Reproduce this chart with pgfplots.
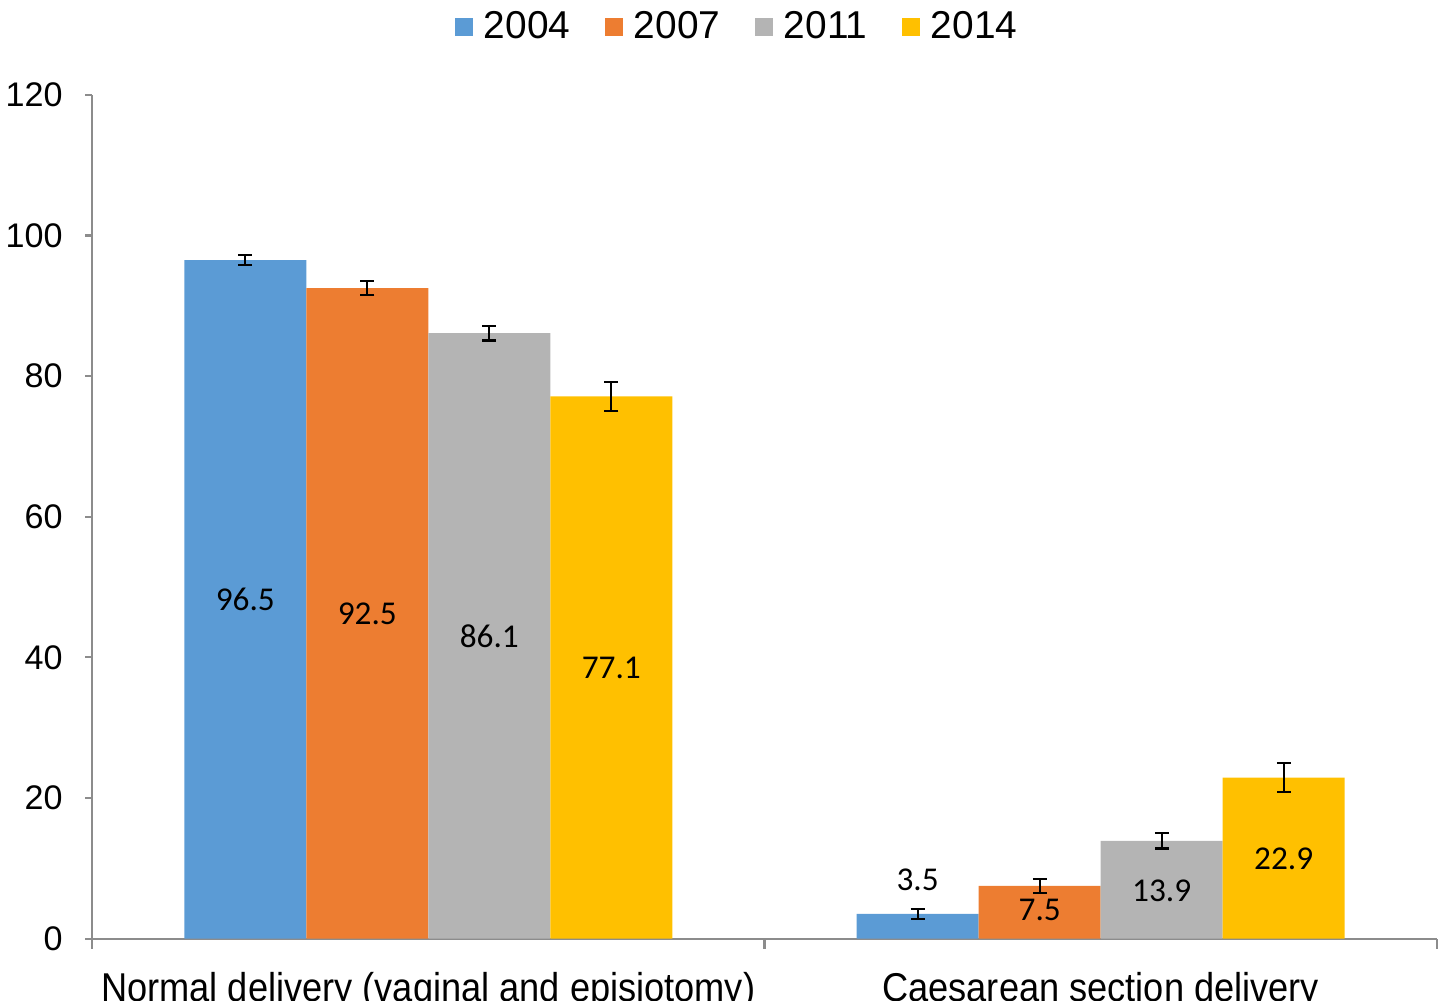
\documentclass[border=0pt]{standalone}
\usepackage{pgfplots}
\pgfplotsset{compat=1.18}
\usepackage{fontspec}
\setmainfont{Liberation Sans}
\newfontfamily\calibri{Carlito}
\newfontfamily\xlabfont[FakeStretch=0.9]{Liberation Sans}
\definecolor{c1}{HTML}{5B9BD5}
\definecolor{c2}{HTML}{ED7D31}
\definecolor{c3}{HTML}{B4B4B4}
\definecolor{c4}{HTML}{FFC000}
\definecolor{axisgray}{HTML}{8C8C8C}
\begin{document}
\begin{tikzpicture}
\begin{axis}[
  scale only axis, width=484.7pt, height=304.1pt,
  ybar, bar width=0.1815, bar shift=0pt,
  xmin=-0.5, xmax=1.5, ymin=0, ymax=120,
  clip=false,
  axis x line*=bottom, axis y line*=left,
  axis line style={draw=axisgray, line width=0.75pt},
  xtick={0,1},
  xticklabels={Normal delivery (vaginal and episiotomy), Caesarean section delivery},
  minor xtick={-0.5,0.5,1.5},
  tick align=outside,
  major x tick style={draw=none},
  minor x tick style={draw=axisgray, line width=0.75pt},
  minor tick length=3.6pt,
  major tick length=2.5pt,
  ytick={0,20,...,120},
  y tick style={draw=axisgray, line width=0.75pt},
  /pgf/number format/assume math mode=true,
  yticklabel style={font=\fontsize{12.3}{14}\selectfont, anchor=east, xshift=-4.6pt},
  xticklabel style={font=\xlabfont\fontsize{14.5}{16}\selectfont, anchor=base, yshift=-20pt},
  legend columns=4,
  legend style={draw=none, at={(0.481,1.08)}, anchor=center,
    font=\fontsize{14}{16}\selectfont,
    /tikz/every odd column/.append style={column sep=2pt},
    /tikz/every even column/.append style={column sep=10.5pt}},
  legend image code/.code={\fill[#1] (0pt,-3.2pt) rectangle (6.4pt,3.2pt);},
  error bars/y dir=both, error bars/y explicit,
  error bars/error bar style={draw=black, line width=0.8pt},
  error bars/error mark options={draw=black, rotate=90, mark size=2.5pt, line width=0.8pt},
]
\addplot[fill=c1, draw=none] table[x=x, y=y, y error=e]{
x y e
-0.2722 96.5 0.7
0.7278 3.5 0.7
};
\addlegendentry{2004}
\addplot[fill=c2, draw=none] table[x=x, y=y, y error=e]{
x y e
-0.0907 92.5 1.0
0.9093 7.5 1.0
};
\addlegendentry{2007}
\addplot[fill=c3, draw=none] table[x=x, y=y, y error=e]{
x y e
0.0907 86.1 1.05
1.0907 13.9 1.1
};
\addlegendentry{2011}
\addplot[fill=c4, draw=none] table[x=x, y=y, y error=e]{
x y e
0.2722 77.1 2.05
1.2722 22.9 2.05
};
\addlegendentry{2014}
\addplot[forget plot, sharp plot, draw=none, mark=none, nodes near coords,
  point meta=explicit symbolic,
  every node near coord/.append style={anchor=center, font=\calibri\fontsize{12}{14}\selectfont, text=black}]
  table[x=x, y=y, meta=label]{
x y label
-0.2722 48.2 96.5
-0.0907 46.2 92.5
0.0907 43.0 86.1
0.2722 38.5 77.1
0.7278 8.4 3.5
0.9093 4.1 7.5
1.0907 6.8 13.9
1.2722 11.4 22.9
};
\end{axis}
\pgfresetboundingbox
\path[use as bounding box] ([shift={(-33.2pt,-22.3pt)}]current axis.south west) rectangle ([shift={(2.2pt,34.2pt)}]current axis.north east);
\end{tikzpicture}
\end{document}
